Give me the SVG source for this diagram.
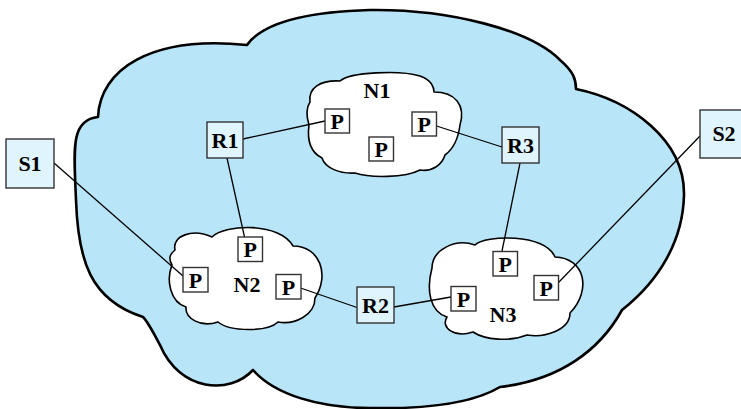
<svg xmlns="http://www.w3.org/2000/svg" width="741" height="409" viewBox="0 0 741 409">
<style>
.big{fill:#b9e5f9;stroke:#000;stroke-width:2.6;stroke-linejoin:round}
.net{fill:#fff;stroke:#000;stroke-width:1.6;stroke-linejoin:round}
.box{fill:#e0f4fd;stroke:#333;stroke-width:1.4}
.pbox{fill:#fff;stroke:#333;stroke-width:1.4}
.lnk{stroke:#000;stroke-width:1.3;fill:none}
text{font-family:"Liberation Serif","Times New Roman",serif;font-weight:bold;font-size:22px;text-anchor:middle;fill:#000}
</style>
<g id="internet">
<path class="big" d="M 247,45 C 262,24 300,12 370,10 C 450,9 530,30 560,60 C 574,72 576,80 576,89 C 630,100 685,140 684,195 C 683,240 660,280 622,310 C 600,350 560,380 500,387 C 470,405 420,409 370,408 C 320,408 275,395 253,370 C 230,395 180,392 160,345 C 152,330 148,322 143,317 C 90,300 78,260 76,200 C 74,150 70,120 98,117 C 100,70 150,35 247,45 Z"/>
</g>
<g id="N1">
<path class="net" d="M 310,102 C 308,88 320,80 340,81 C 350,72 400,70 420,76 C 432,80 434,88 434,92 C 455,92 466,105 460,125 C 458,140 452,150 445,155 C 442,165 432,172 420,170 C 405,178 370,178 355,173 C 340,174 325,168 322,158 C 310,152 307,140 309,125 C 306,115 306,108 310,102 Z"/>
<text x="377" y="98">N1</text>
</g>
<g id="N2">
<path class="net" d="M 175,250 C 172,236 192,228 212,237 C 225,224 280,222 293,246 C 320,246 330,275 315,298 C 315,315 295,325 278,322 C 268,332 230,332 218,322 C 200,328 185,318 186,307 C 170,302 166,280 172,265 C 168,258 170,254 175,250 Z"/>
<text x="247" y="292">N2</text>
</g>
<g id="N3">
<path class="net" d="M 432,268 C 432,250 455,238 475,245 C 485,235 545,233 555,257 C 585,258 592,290 570,313 C 570,330 545,338 527,335 C 510,342 485,340 473,332 C 455,338 440,328 447,317 C 430,312 426,290 432,268 Z"/>
<text x="503" y="322">N3</text>
</g>
<g id="connectors">
<line class="lnk" x1="54" y1="163" x2="183" y2="276"/>
<line class="lnk" x1="243" y1="139" x2="325" y2="121"/>
<line class="lnk" x1="227" y1="158" x2="244.5" y2="237"/>
<line class="lnk" x1="436.5" y1="126" x2="502" y2="147"/>
<line class="lnk" x1="520" y1="163" x2="502" y2="251"/>
<line class="lnk" x1="300.5" y1="288" x2="357" y2="307.5"/>
<line class="lnk" x1="394" y1="307" x2="451" y2="297"/>
<line class="lnk" x1="700" y1="136" x2="558" y2="283"/>
</g>
<g id="S1"><rect class="box" x="6" y="139" width="48" height="49"/><text x="30" y="171">S1</text></g>
<g id="S2"><rect class="box" x="700" y="110" width="50" height="48"/><text x="724" y="141">S2</text></g>
<g id="R1"><rect class="box" x="207" y="122" width="36" height="36"/><text x="225" y="148">R1</text></g>
<g id="R3"><rect class="box" x="502" y="127" width="37" height="36"/><text x="520.5" y="153">R3</text></g>
<g id="R2"><rect class="box" x="357" y="287" width="37" height="36"/><text x="375.5" y="313">R2</text></g>
<g id="N1P1"><rect class="pbox" x="325" y="109" width="24.5" height="24"/><text x="337.2" y="129">P</text></g>
<g id="N1P2"><rect class="pbox" x="412" y="112" width="24.5" height="24"/><text x="424.2" y="132">P</text></g>
<g id="N1P3"><rect class="pbox" x="369" y="137" width="24.5" height="24"/><text x="381.2" y="157">P</text></g>
<g id="N2P1"><rect class="pbox" x="238" y="237" width="24.5" height="24.5"/><text x="250.2" y="257">P</text></g>
<g id="N2P2"><rect class="pbox" x="183" y="267.5" width="25" height="24.5"/><text x="195.5" y="288">P</text></g>
<g id="N2P3"><rect class="pbox" x="276" y="274.5" width="25" height="24.5"/><text x="288.5" y="295">P</text></g>
<g id="N3P1"><rect class="pbox" x="493" y="251.5" width="24.5" height="24.5"/><text x="505.2" y="272">P</text></g>
<g id="N3P2"><rect class="pbox" x="451" y="286.5" width="25" height="24.5"/><text x="463.5" y="307">P</text></g>
<g id="N3P3"><rect class="pbox" x="534" y="275.5" width="24.5" height="24.5"/><text x="546.2" y="296">P</text></g>
</svg>
